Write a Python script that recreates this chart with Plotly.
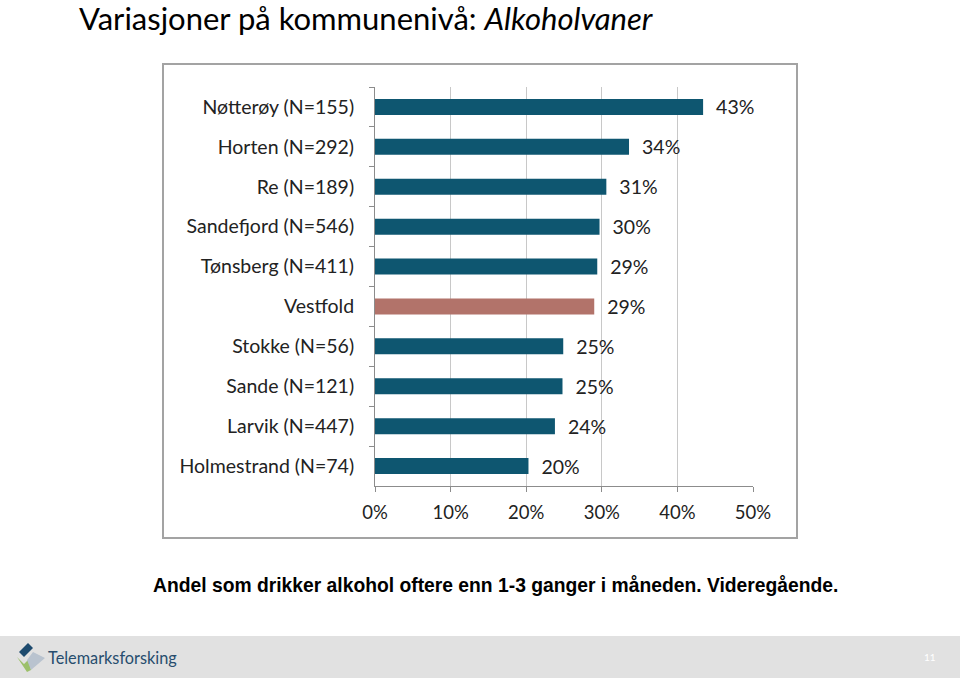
import plotly.graph_objects as go

categories = ["Nøtterøy (N=155)", "Horten (N=292)", "Re (N=189)", "Sandefjord (N=546)",
              "Tønsberg (N=411)", "Vestfold", "Stokke (N=56)", "Sande (N=121)",
              "Larvik (N=447)", "Holmestrand (N=74)"]
values = [43.4, 33.6, 30.6, 29.7, 29.4, 29.0, 24.9, 24.8, 23.8, 20.3]
x_tickvals = [0, 10, 20, 30, 40, 50]
x_ticktext = ["0%", "10%", "20%", "30%", "40%", "50%"]

TEAL = "#0e5670"
BROWN = "#b2736a"
colors = [BROWN if c == "Vestfold" else TEAL for c in categories]

W, H = 960, 678
def px(x):
    return x / W
def py(y):
    return 1 - y / H

FONT = "Lato, 'Open Sans', sans-serif"

fig = go.Figure(go.Bar(
    y=categories, x=values, orientation="h",
    marker=dict(color=colors, line=dict(width=0)),
    text=[f"\u00a0\u00a0{v:.0f}%" for v in values],
    textposition="outside",
    constraintext="none",
    textfont=dict(family=FONT, size=19.5, color="#222222"),
    cliponaxis=False,
    hoverinfo="skip",
))

fig.update_layout(
    width=W, height=H,
    autosize=False,
    margin=dict(l=0, r=0, t=0, b=0, pad=0, autoexpand=False),
    paper_bgcolor="white", plot_bgcolor="white",
    showlegend=False,
    bargap=0.6,
    xaxis=dict(
        domain=[px(375), px(753)], range=[0, 50],
        tickvals=x_tickvals, ticktext=x_ticktext,
        showgrid=True, gridcolor="#c8c8c8", gridwidth=1,
        showline=True, linecolor="#8c8c8c", linewidth=1,
        ticks="outside", ticklen=5, tickcolor="#8c8c8c",
        tickfont=dict(family=FONT, size=18.5, color="#222222"),
        ticklabelstandoff=5,
        zeroline=False, fixedrange=True, automargin=False,
    ),
    yaxis=dict(
        domain=[py(486), py(87)],
        autorange="reversed",
        showline=True, linecolor="#8c8c8c", linewidth=1,
        ticks="outside", ticklen=5, tickcolor="#8c8c8c",
        tickson="boundaries",
        tickfont=dict(family=FONT, size=19.5, color="#222222"),
        ticklabelstandoff=16,
        showgrid=False, fixedrange=True, automargin=False,
    ),
)

shapes = []
# chart frame
shapes.append(dict(type="rect", xref="paper", yref="paper",
                   x0=px(163), x1=px(797), y0=py(538), y1=py(64),
                   line=dict(color="#a3a3a3", width=2), fillcolor="rgba(0,0,0,0)", layer="below"))
# footer band
shapes.append(dict(type="rect", xref="paper", yref="paper",
                   x0=0, x1=1, y0=0, y1=py(636),
                   line=dict(width=0), fillcolor="#e1e1e1", layer="below"))
# logo pieces
def path(points):
    return "M " + " L ".join(f"{px(x)},{py(y)}" for x, y in points) + " Z"
shapes.append(dict(type="path", xref="paper", yref="paper",
                   path=path([(28, 643), (33, 648), (24, 657), (19, 652)]),
                   fillcolor="#1d4a6e", line=dict(width=0)))
shapes.append(dict(type="path", xref="paper", yref="paper",
                   path=path([(17, 657), (24, 664), (29, 659), (31, 670), (27, 672)]),
                   fillcolor="#9cc06a", line=dict(width=0)))
shapes.append(dict(type="path", xref="paper", yref="paper",
                   path=path([(33, 652), (45, 658), (31, 670), (27, 660)]),
                   fillcolor="#b9c3cf", line=dict(width=0)))
fig.update_layout(shapes=shapes)

annotations = [
    dict(x=px(77), y=py(18), xref="paper", yref="paper", xanchor="left", yanchor="middle",
         text="Variasjoner på kommunenivå: <i>Alkoholvaner</i>", showarrow=False,
         font=dict(family=FONT, size=31, color="#000000")),
    dict(x=px(495), y=py(585), xref="paper", yref="paper", xanchor="center", yanchor="middle",
         text="<b>Andel som drikker alkohol oftere enn 1-3 ganger i måneden. Videregående.</b>",
         showarrow=False,
         font=dict(family="'Liberation Sans', Arial, sans-serif", size=19.3, color="#000000")),
    dict(x=px(46), y=py(657), xref="paper", yref="paper", xanchor="left", yanchor="middle",
         text="Telemarksforsking", showarrow=False,
         font=dict(family="Lato, sans-serif", size=16.3, color="#274d6e")),
    dict(x=px(930), y=py(657), xref="paper", yref="paper", xanchor="center", yanchor="middle",
         text="11", showarrow=False,
         font=dict(family=FONT, size=10, color="#ffffff")),
]
fig.update_layout(annotations=annotations)

fig.write_html("out.html",
               config=dict(displayModeBar=False, staticPlot=False),
               post_script="document.body.style.margin='0';document.body.style.overflow='hidden';")
